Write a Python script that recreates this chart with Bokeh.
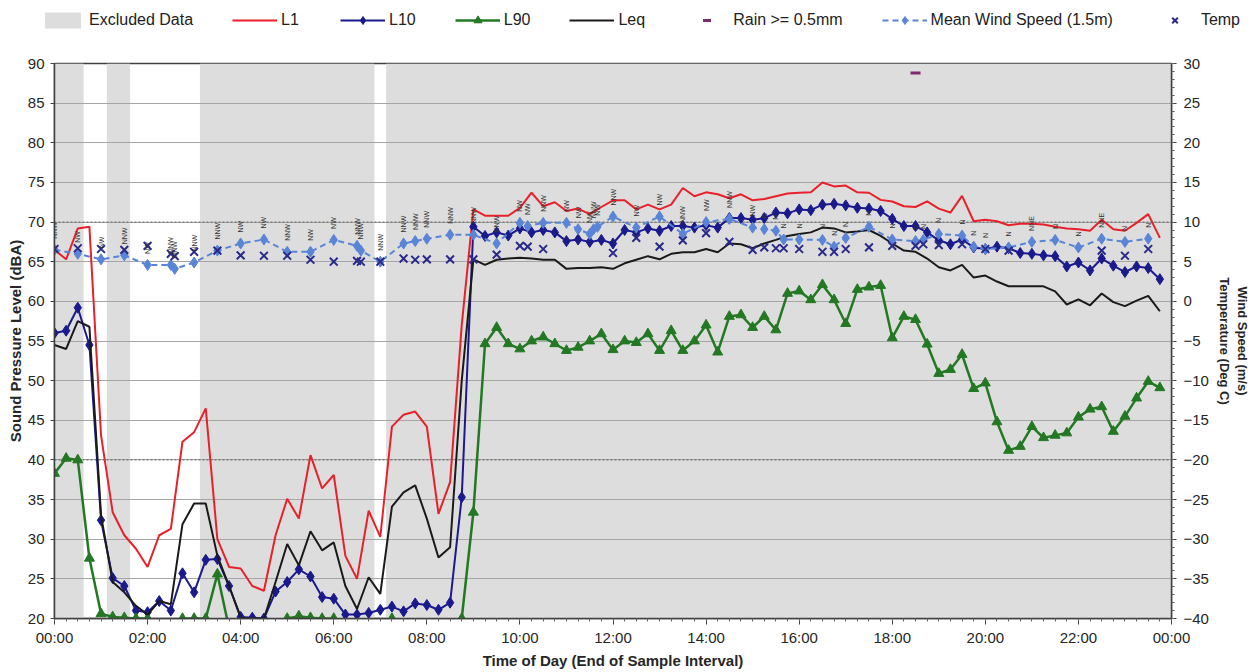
import math
from bokeh.plotting import figure
from bokeh.layouts import column
from bokeh.models import Range1d, LinearAxis, FixedTicker, Legend, LegendItem, Span
from bokeh.core.properties import value
from bokeh.embed import file_html
from bokeh.resources import INLINE

# ---------------- data (15-minute intervals, end of interval) ----------------
interval_hours = 0.25

L1 = [66.5, 65.3, 69.2, 69.4, 43.1, 33.4, 30.5, 28.8, 26.5, 30.5, 31.3, 42.3, 43.5, 46.5, 30.0, 26.5,
      26.3, 24.1, 23.5, 30.5, 35.1, 32.6, 40.6, 36.4, 38.1, 27.9, 25.0, 33.6, 30.3, 44.2, 45.7, 46.1,
      44.2, 33.2, 37.2, 57.0, 71.6, 70.8, 70.8, 70.8, 71.8, 73.7, 72.0, 72.5, 71.4, 71.7, 71.0, 71.9,
      72.75, 72.75, 71.6, 72.2, 71.6, 72.2, 74.3, 73.25, 73.75, 73.5, 73.0, 73.5, 72.75, 72.9, 73.25, 73.6,
      73.7, 73.75, 75.0, 74.5, 74.6, 73.75, 73.7, 72.8, 72.6, 72.0, 71.9, 72.6, 71.7, 71.2, 73.3, 70.1,
      70.3, 70.1, 69.6, 69.8, 69.8, 69.7, 69.4, 69.2, 69.1, 68.9, 70.3, 69.1, 68.9, 69.9, 71.0, 68.0]

L10 = [56.0, 56.3, 59.2, 54.5, 32.4, 25.1, 24.1, 21.0, 20.8, 22.2, 21.0, 25.7, 23.3, 27.4, 27.5, 24.1,
       20.2, 20.1, 20.0, 23.4, 24.6, 26.2, 25.3, 22.7, 22.5, 20.5, 20.5, 20.7, 21.1, 21.5, 20.9, 21.9,
       21.7, 21.1, 22.0, 35.3, 69.4, 68.25, 68.7, 68.3, 69.2, 68.7, 69.0, 68.7, 67.6, 67.8, 67.5, 67.75,
       67.3, 69.0, 68.7, 69.2, 68.9, 69.5, 69.5, 69.3, 69.6, 69.3, 70.5, 70.5, 70.3, 70.5, 71.2, 71.1,
       71.6, 71.5, 72.2, 72.3, 72.1, 71.8, 71.7, 71.4, 70.4, 69.5, 69.5, 68.7, 67.7, 67.2, 67.8, 66.8,
       66.6, 66.9, 66.7, 66.1, 66.0, 65.8, 65.7, 64.4, 64.9, 63.9, 65.4, 64.5, 63.7, 64.4, 64.2, 62.8]

L90 = [38.3, 40.2, 40.0, 27.6, 20.6, 20.2, 20.1, 20.0, 20.0, 18.5, 18.5, 20.0, 20.0, 20.0, 25.6, 18.8,
       18.5, 18.5, 18.5, 18.8, 20.0, 20.3, 20.1, 20.0, 20.0, 18.8, 18.5, 18.5, 18.8, 20.0, 18.8, 18.5,
       18.5, 18.5, 18.8, 20.0, 33.4, 54.65, 56.7, 54.65, 54.0, 55.0, 55.5, 54.65, 53.8, 54.2, 55.0, 55.9,
       53.9, 55.0, 54.8, 55.9, 53.8, 56.3, 53.8, 55.0, 57.0, 53.6, 58.1, 58.3, 56.7, 58.1, 56.4, 61.0,
       61.3, 60.2, 62.1, 60.2, 57.2, 61.5, 61.8, 62.0, 55.4, 58.1, 57.7, 54.6, 50.9, 51.4, 53.3, 49.0,
       49.7, 44.8, 41.2, 41.7, 44.2, 42.8, 43.1, 43.4, 45.4, 46.4, 46.7, 43.6, 45.5, 47.8, 49.9, 49.1]

Leq = [54.5, 54.0, 57.5, 56.8, 33.0, 24.6, 23.3, 21.6, 20.5, 22.2, 21.8, 31.9, 34.5, 34.5, 27.9, 24.1,
       20.1, 20.0, 20.0, 24.6, 29.4, 26.7, 31.0, 28.6, 29.6, 24.1, 21.2, 25.2, 23.1, 34.1, 35.9, 36.8,
       32.6, 27.7, 29.0, 50.0, 65.3, 64.6, 65.25, 65.4, 65.5, 65.4, 65.25, 65.25, 64.1, 64.2, 64.2, 64.3,
       64.1, 64.8, 65.25, 65.7, 65.3, 66.0, 66.2, 66.2, 66.6, 66.2, 67.3, 67.2, 66.7, 67.3, 67.75, 68.25,
       68.5, 68.7, 69.3, 69.2, 68.7, 68.8, 69.0, 68.25, 67.3, 66.4, 66.25, 65.4, 64.3, 63.9, 64.6, 63.0,
       63.25, 62.5, 61.9, 61.9, 61.9, 61.9, 61.25, 59.6, 60.25, 59.5, 61.0, 59.9, 59.4, 60.1, 60.7, 58.75]

excluded_start = [0.0, 1.125, 3.125, 7.125]
excluded_end = [0.625, 1.625, 6.875, 24.0]

rain_time = [18.5]
rain_level = [88.8]

wind_time = [0.0, 0.5, 1.0, 1.5, 2.0, 2.5, 2.583, 3.0, 3.5, 4.0, 4.5, 5.0, 5.5, 6.0, 6.5, 6.583,
             7.0, 7.5, 7.75, 8.0, 8.5, 9.0, 9.5, 10.0, 10.167, 10.5, 11.0, 11.25, 11.5, 11.583, 11.667,
             12.0, 12.5, 13.0, 13.5, 14.0, 14.5, 15.0, 15.25, 15.5, 15.667, 16.0, 16.5, 16.75, 17.0,
             17.5, 18.0, 18.5, 18.667, 19.0, 19.5, 19.75, 20.0, 20.5, 21.0, 21.5, 22.0, 22.5, 23.0, 23.5]
wind_speed = [6.5, 6.0, 5.3, 5.8, 4.6, 4.6, 4.1, 4.9, 6.4, 7.3, 7.8, 6.25, 6.25, 7.75, 7.0, 6.4,
              5.0, 7.3, 7.6, 7.9, 8.4, 8.4, 7.3, 9.9, 9.5, 9.9, 9.9, 9.1, 8.5, 9.1, 9.4,
              10.7, 9.3, 10.7, 8.5, 10.0, 10.4, 9.3, 9.1, 8.9, 7.8, 7.8, 7.75, 6.9, 8.0,
              9.4, 7.8, 7.6, 7.75, 8.5, 8.3, 6.9, 6.6, 6.8, 7.5, 7.75, 6.8, 7.9, 7.5, 7.9]
wind_dir = ["NNW", "NW", "NW", "NNW", "NW", "NNW", "NNW", "NNW", "NNW", "NW", "NW", "NNW", "NW", "NW", "NNW", "NNW",
            "NNW", "NNW", "NNW", "NNW", "NNW", "NNW", "NNW", "NW", "NW", "NNW", "NW", "NW", "NW", "NNW", "NW",
            "NNW", "NW", "NW", "NNW", "NW", "NNW", "NW", "N", "N", "N", "N", "N", "N", "N",
            "N", "N", "N", "N", "N", "N", "N", "N", "N", "NNE", "N", "N", "NNE", "N", "N"]

temp_time = [0.0, 0.5, 1.0, 1.5, 2.0, 2.5, 2.583, 3.0, 3.5, 4.0, 4.5, 5.0, 5.5, 6.0, 6.5, 6.583,
             7.0, 7.5, 7.75, 8.0, 8.5, 9.0, 9.5, 10.0, 10.167, 10.5, 12.0, 12.5, 13.0, 13.5, 14.0,
             14.5, 15.0, 15.25, 15.5, 15.667, 16.0, 16.5, 16.75, 17.0, 17.5, 18.0, 18.5, 18.667,
             19.0, 19.5, 20.0, 20.5, 22.5, 23.0, 23.5]
temp_c = [6.6, 6.7, 6.6, 6.5, 7.0, 6.0, 5.7, 6.25, 6.4, 5.8, 5.75, 5.75, 5.25, 5.0, 5.1, 5.0,
          5.0, 5.4, 5.25, 5.3, 5.3, 5.3, 5.9, 7.0, 6.9, 6.6, 6.1, 8.0, 6.9, 7.7, 8.6,
          7.5, 6.5, 6.8, 6.7, 6.7, 6.6, 6.25, 6.25, 6.6, 6.8, 7.0, 7.0, 7.2,
          7.1, 7.2, 6.6, 6.4, 6.4, 5.75, 6.6]

x_tick_hours = [0, 2, 4, 6, 8, 10, 12, 14, 16, 18, 20, 22, 24]
x_tick_labels = ["00:00", "02:00", "04:00", "06:00", "08:00", "10:00", "12:00",
                 "14:00", "16:00", "18:00", "20:00", "22:00", "00:00"]

times = [i * interval_hours for i in range(len(L1))]

# ---------------- styling ----------------
FONT = "Liberation Sans"
C_L1 = "#E8202A"
C_L10 = "#1A1A8C"
C_L90 = "#237823"
C_LEQ = "#1A1A1A"
C_WIND = "#5A84D6"
C_TEMP = "#2A2A8A"
C_RAIN = "#7F2A6F"
C_EXCL = "#DDDDDD"

W = 1252
LEG_H = 51

p = figure(width=W, height=672 - LEG_H, x_range=Range1d(0, 24), y_range=Range1d(20, 90),
           output_backend="svg", toolbar_location=None,
           min_border_left=54, min_border_right=80, min_border_top=12, min_border_bottom=54)
p.extra_y_ranges = {"right": Range1d(-40, 30)}
p.background_fill_color = "white"
p.border_fill_color = "white"
p.outline_line_color = "#404040"
p.outline_line_width = 1.5

p.xgrid.visible = False
p.ygrid.grid_line_color = "#A6A6A6"
p.ygrid.grid_line_width = 1
p.ygrid.ticker = FixedTicker(ticks=list(range(20, 91, 5)))

# excluded data shading
p.quad(left=excluded_start, right=excluded_end, bottom=20, top=90,
       fill_color=C_EXCL, line_color=None, level="image")

for lvl in (70, 40):
    p.add_layout(Span(location=lvl, dimension="width", line_color="#606060",
                      line_width=1, line_dash="2 2", level="underlay"))

# series
p.line(times, L1, line_color=C_L1, line_width=2)
p.line(times, L10, line_color=C_L10, line_width=2)
p.scatter(times, L10, marker="diamond", size=11, fill_color=C_L10, line_color=C_L10)
p.line(times, L90, line_color=C_L90, line_width=2.5)
p.scatter(times, L90, marker="triangle", size=10, fill_color=C_L90, line_color=C_L90)
p.line(times, Leq, line_color=C_LEQ, line_width=2)

p.line(wind_time, wind_speed, line_color=C_WIND, line_width=2, line_dash="6 4", y_range_name="right")
p.scatter(wind_time, wind_speed, marker="diamond", size=11, fill_color=C_WIND,
          line_color=C_WIND, y_range_name="right")
p.scatter(temp_time, temp_c, marker="x", size=11, line_color=C_TEMP, line_width=2,
          y_range_name="right")
p.scatter(rain_time, rain_level, marker="dash", size=10, line_color=C_RAIN, line_width=3)

p.text(x=wind_time, y=wind_speed, text=wind_dir, angle=math.pi / 2, text_align="left",
       text_baseline="middle", y_offset=-11, text_font=value(FONT), text_font_size="7px",
       text_color="#333333", y_range_name="right")

# axes
xa = p.xaxis[0]
xa.ticker = FixedTicker(ticks=x_tick_hours, minor_ticks=[k * 0.25 for k in range(97)])
xa.major_label_overrides = {h: lab for h, lab in zip(x_tick_hours, x_tick_labels)}
xa.axis_label = "Time of Day (End of Sample Interval)"

ya = p.yaxis[0]
ya.ticker = FixedTicker(ticks=list(range(20, 91, 5)))
ya.axis_label = "Sound Pressure Level (dBA)"

yr = LinearAxis(y_range_name="right",
                ticker=FixedTicker(ticks=list(range(-40, 31, 5)), minor_ticks=list(range(-40, 31, 1))),
                axis_label="Wind Speed (m/s)\nTemperature (Deg C)")
p.add_layout(yr, "right")

for ax in (xa, ya, yr):
    ax.axis_line_color = "#404040"
    ax.axis_line_width = 1.5
    ax.major_tick_line_color = "#404040"
    ax.minor_tick_line_color = "#606060"
    ax.major_tick_in = 0
    ax.minor_tick_in = 0
    ax.major_label_text_font = FONT
    ax.major_label_text_font_size = "15px"
    ax.major_label_text_color = "#262626"
    ax.axis_label_text_font = FONT
    ax.axis_label_text_font_size = "15px"
    ax.axis_label_text_font_style = "bold"
    ax.axis_label_text_color = "#262626"

xa.major_tick_out = 6
xa.minor_tick_out = 3
xa.major_label_standoff = 4
xa.axis_label_standoff = 3
ya.major_tick_out = 4
ya.minor_tick_line_color = None
ya.major_label_standoff = 6
ya.axis_label_standoff = 1
yr.major_tick_out = 5
yr.minor_tick_out = 3
yr.major_label_standoff = 7
yr.axis_label_standoff = 5
yr.axis_label_text_font_size = "13px"

# ---------------- legend strip (key glyphs only; their single point lies off-range) ----------------
lg = figure(width=W, height=LEG_H, x_range=Range1d(0, 1), y_range=Range1d(0, 1),
            x_axis_type=None, y_axis_type=None, output_backend="svg", toolbar_location=None,
            min_border=0)
lg.outline_line_color = None
lg.grid.visible = False
lg.background_fill_color = "white"
lg.border_fill_color = "white"

# keep the legend strip's frame full-width (do not align it with the chart frame)
aligned_off = False
for fig in (lg, p):
    if "frame_align" in fig.properties():
        fig.frame_align = False
        aligned_off = True

OFF = [5]
k_excl = lg.quad(left=OFF, right=[6], bottom=OFF, top=[6], fill_color=C_EXCL, line_color=None)
k_l1 = lg.line(OFF, OFF, line_color=C_L1, line_width=2)
k_l10 = lg.line(OFF, OFF, line_color=C_L10, line_width=2)
k_l10m = lg.scatter(OFF, OFF, marker="diamond", size=11, fill_color=C_L10, line_color=C_L10)
k_l90 = lg.line(OFF, OFF, line_color=C_L90, line_width=2.5)
k_l90m = lg.scatter(OFF, OFF, marker="triangle", size=10, fill_color=C_L90, line_color=C_L90)
k_leq = lg.line(OFF, OFF, line_color=C_LEQ, line_width=2)
k_rain = lg.scatter(OFF, OFF, marker="dash", size=10, line_color=C_RAIN, line_width=3)
k_wind = lg.line(OFF, OFF, line_color=C_WIND, line_width=2, line_dash="6 4")
k_windm = lg.scatter(OFF, OFF, marker="diamond", size=11, fill_color=C_WIND, line_color=C_WIND)
k_temp = lg.scatter(OFF, OFF, marker="x", size=11, line_color=C_TEMP, line_width=2)

legend = Legend(
    items=[
        LegendItem(label="Excluded Data", renderers=[k_excl]),
        LegendItem(label="L1", renderers=[k_l1]),
        LegendItem(label="L10", renderers=[k_l10, k_l10m]),
        LegendItem(label="L90", renderers=[k_l90, k_l90m]),
        LegendItem(label="Leq", renderers=[k_leq]),
        LegendItem(label="Rain >= 0.5mm", renderers=[k_rain]),
        LegendItem(label="Mean Wind Speed (1.5m)", renderers=[k_wind, k_windm]),
        LegendItem(label="Temp", renderers=[k_temp]),
    ],
    location=(40 if aligned_off else -14, 21), orientation="horizontal",
    glyph_width=45, glyph_height=20, label_height=20, label_standoff=4,
    spacing=39 if aligned_off else 27,
    padding=0, margin=0, border_line_color=None, background_fill_alpha=0,
    label_text_font=FONT, label_text_font_size="16px", label_text_color="#222222")
lg.add_layout(legend)

open("out.html", "w").write(file_html(column(lg, p, spacing=0), INLINE))
